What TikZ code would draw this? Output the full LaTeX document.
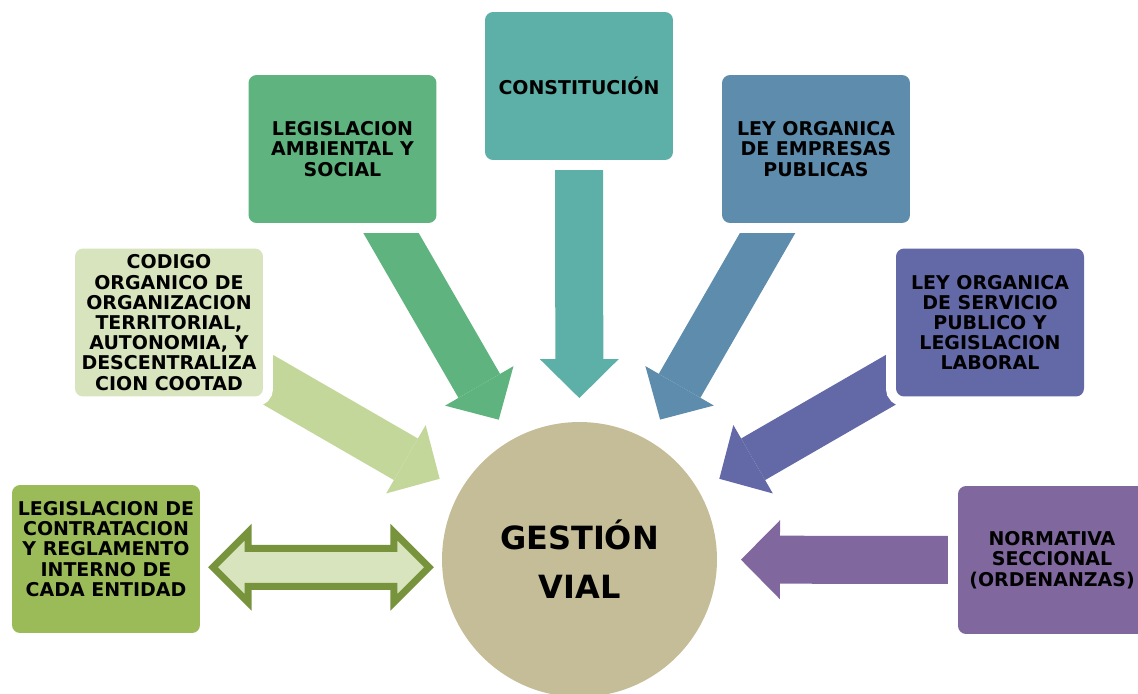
\documentclass[tikz,border=0pt]{standalone}
\usepackage{fontspec}
\setmainfont{DejaVu Sans}
\usepackage{tikz}
\usetikzlibrary{arrows.meta,shapes.arrows,backgrounds,calc}
\definecolor{constc}{RGB}{93,176,167}
\definecolor{ambc}{RGB}{94,179,126}
\definecolor{empc}{RGB}{93,140,172}
\definecolor{servc}{RGB}{99,104,167}
\definecolor{normc}{RGB}{128,104,158}
\definecolor{codc}{RGB}{216,228,190}
\definecolor{codarr}{RGB}{196,215,155}
\definecolor{contc}{RGB}{155,187,89}
\definecolor{gestc}{RGB}{196,189,151}
\definecolor{linkc}{RGB}{119,147,60}
\definecolor{linkfill}{RGB}{216,228,189}

\begin{document}
\begin{tikzpicture}[x=0.02cm,y=-0.02cm,font=\bfseries\fontsize{10.8}{11.5}\selectfont,
  box/.style={rounded corners=0.16cm,minimum width=3.76cm,minimum height=2.96cm,align=center,inner sep=0pt,outer sep=0pt,preaction={draw=white,line width=0.4cm}},
  blk/.style={color=#1,line width=0.96cm,-{Triangle[length=0.78cm,width=1.58cm,line width=0pt]},shorten >=0.48cm}]
  \useasboundingbox (0,0) rectangle (1138,693);
  % center
  \node[circle,fill=gestc,minimum size=5.5cm,inner sep=0pt,outer sep=0pt,align=center,
    font=\bfseries\fontsize{18.2}{27.9}\selectfont] (gest) at (579.5,559.5) {GESTIÓN\\VIAL};
  % boxes
  \node[box,fill=constc] (const) at (579,86) {CONSTITUCIÓN};
  \node[box,fill=ambc] (amb) at (342.5,149) {LEGISLACION\\AMBIENTAL Y\\SOCIAL};
  \node[box,fill=empc] (emp) at (816,149) {LEY ORGANICA\\DE EMPRESAS\\PUBLICAS};
  \node[box,fill=codc] (cod) at (169,322.5) {CODIGO\\ORGANICO DE\\ORGANIZACION\\TERRITORIAL,\\AUTONOMIA, Y\\DESCENTRALIZA\\CION COOTAD};
  \node[box,fill=servc] (serv) at (990,322.5) {LEY ORGANICA\\DE SERVICIO\\PUBLICO Y\\LEGISLACION\\LABORAL};
  \node[box,fill=normc] (norm) at (1052,560) {NORMATIVA\\SECCIONAL\\(ORDENANZAS)};
  \node[box,fill=contc] (cont) at (106,559) {LEGISLACION DE\\CONTRATACION\\Y REGLAMENTO\\INTERNO DE\\CADA ENTIDAD\\\mbox{}};
  % two-way link
  \node[double arrow,draw=linkc,fill=linkfill,line width=0.14cm,minimum height=4.32cm,
    double arrow head extend=0.32cm,inner xsep=0pt,inner ysep=0.31cm] (link)
    at ($(cont.east)!0.5!(gest.west)+(0,8)$) {};
  \begin{scope}[on background layer]
    \draw[blk=constc] (const.center) -- (gest);
    \draw[blk=ambc] (amb.center) -- (gest);
    \draw[blk=empc] (emp.center) -- (gest);
    \draw[blk=codarr] (cod.center) -- (gest);
    \draw[blk=servc] (serv.center) -- (gest);
    \draw[blk=normc] (norm.center) -- (gest);
  \end{scope}
\end{tikzpicture}
\end{document}
